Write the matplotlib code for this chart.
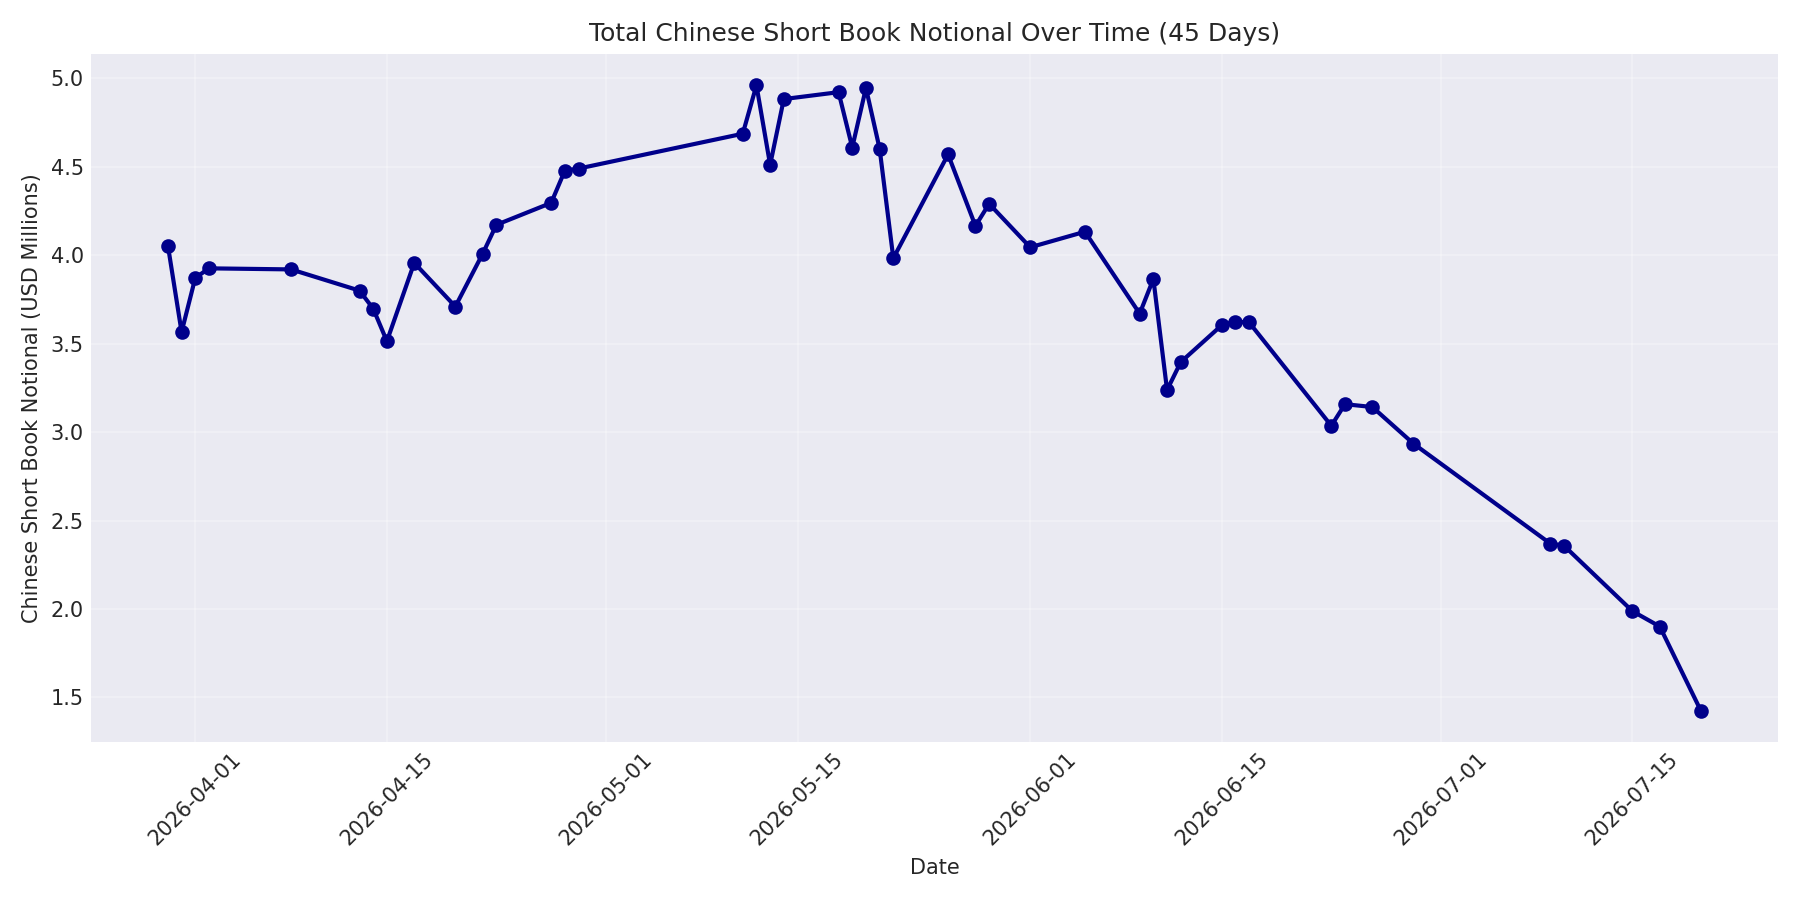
import matplotlib
matplotlib.use("Agg")
import matplotlib.pyplot as plt
import matplotlib.dates as mdates
import pandas as pd

dates = [
    "2026-03-30", "2026-03-31", "2026-04-01", "2026-04-02", "2026-04-08",
    "2026-04-13", "2026-04-14", "2026-04-15", "2026-04-17", "2026-04-20",
    "2026-04-22", "2026-04-23", "2026-04-27", "2026-04-28", "2026-04-29",
    "2026-05-11", "2026-05-12", "2026-05-13", "2026-05-14", "2026-05-18",
    "2026-05-19", "2026-05-20", "2026-05-21", "2026-05-22", "2026-05-26",
    "2026-05-28", "2026-05-29", "2026-06-01", "2026-06-05", "2026-06-09",
    "2026-06-10", "2026-06-11", "2026-06-12", "2026-06-15", "2026-06-16",
    "2026-06-17", "2026-06-23", "2026-06-24", "2026-06-26", "2026-06-29",
    "2026-07-09", "2026-07-10", "2026-07-15", "2026-07-17", "2026-07-20",
]
notional = [
    4.055, 3.566, 3.872, 3.926, 3.920,
    3.800, 3.698, 3.514, 3.957, 3.710,
    4.009, 4.172, 4.296, 4.478, 4.490,
    4.687, 4.961, 4.511, 4.883, 4.922,
    4.609, 4.946, 4.602, 3.983, 4.570,
    4.166, 4.291, 4.045, 4.133, 3.670,
    3.866, 3.238, 3.396, 3.605, 3.625,
    3.620, 3.036, 3.158, 3.142, 2.935,
    2.370, 2.358, 1.988, 1.901, 1.425,
]

x = pd.to_datetime(dates)

plt.style.use("seaborn-v0_8-darkgrid")
plt.rcParams["font.family"] = ["DejaVu Sans"]
fig, ax = plt.subplots(figsize=(12, 6), dpi=150)

ax.plot(x, notional, marker="o", color="darkblue", linewidth=2, markersize=6)
ax.set_title("Total Chinese Short Book Notional Over Time (45 Days)")
ax.set_xlabel("Date")
ax.set_ylabel("Chinese Short Book Notional (USD Millions)")
ax.grid(True, alpha=0.3)
ax.xaxis.set_major_formatter(mdates.DateFormatter("%Y-%m-%d"))
plt.xticks(rotation=45)

plt.tight_layout()
plt.savefig("out.png")
